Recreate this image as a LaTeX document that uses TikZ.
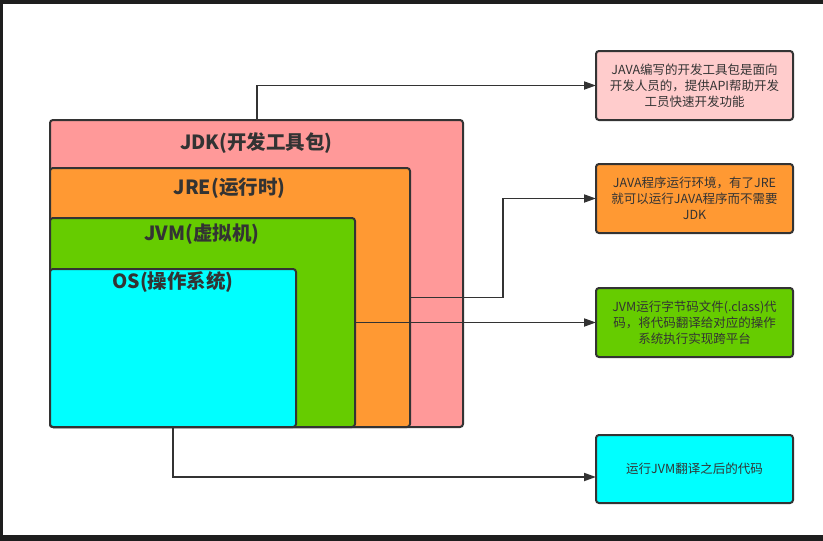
\documentclass[tikz,border=0pt]{standalone}
\usepackage{fontspec}
\setmainfont{Noto Sans CJK SC}
\usetikzlibrary{arrows.meta}
\definecolor{frame}{HTML}{1E1E1E}
\definecolor{edge}{HTML}{333333}
\definecolor{jdkc}{HTML}{FF9999}
\definecolor{jrec}{HTML}{FF9933}
\definecolor{jvmc}{HTML}{66CC00}
\definecolor{osc}{HTML}{00FFFF}
\definecolor{info1c}{HTML}{FFCCCC}
\begin{document}
\begin{tikzpicture}[x=1pt,y=-1pt,
  layer/.style={draw=edge, line width=2pt, rounded corners=3pt, inner sep=0pt, outer sep=0pt, anchor=north west},
  infobox/.style={draw=edge, line width=2pt, rounded corners=3pt, inner sep=0pt, outer sep=0pt, anchor=north west,
    minimum width=197pt, minimum height=69pt, align=center, font=\fontsize{12.5}{16}\selectfont, text=edge},
  lbl/.style={font=\fontsize{19.5}{21}\selectfont\bfseries, text=edge, inner sep=0pt},
  arr/.style={draw=edge, line width=1.8pt, -{Triangle[length=12pt,width=8pt]}}]
\path[use as bounding box, fill=white] (0,0) rectangle (823,541);
\fill[frame] (0,0) rectangle (823,4);
\fill[frame] (0,0) rectangle (3,541);
\fill[frame] (0,535) rectangle (823,541);
% nested layers
\node[layer, fill=jdkc, minimum width=413pt, minimum height=307pt] (jdk) at (50,120) {};
\node[layer, fill=jrec, minimum width=360pt, minimum height=259pt] (jre) at (50,168) {};
\node[layer, fill=jvmc, minimum width=305pt, minimum height=209pt] (jvm) at (50,218) {};
\node[layer, fill=osc, minimum width=246pt, minimum height=158pt] (os) at (50,269) {};
\node[lbl] (jdkl) at (256.5,143) {JDK(开发工具包)};
\node[lbl] (jrel) at (229.5,188) {JRE(运行时)};
\node[lbl] (jvml) at (202,234) {JVM(虚拟机)};
\node[lbl] (osl) at (173,282) {OS(操作系统)};
% info boxes
\node[infobox, fill=info1c] (info1) at (596,51) {JAVA编写的开发工具包是面向\\开发人员的，提供API帮助开发\\工员快速开发功能};
\node[infobox, fill=jrec] (info2) at (596,164) {JAVA程序运行环境，有了JRE\\就可以运行JAVA程序而不需要\\JDK};
\node[infobox, fill=jvmc] (info3) at (596,288) {JVM运行字节码文件(.class)代\\码，将代码翻译给对应的操作\\系统执行实现跨平台};
\node[infobox, fill=osc, minimum height=68pt] (info4) at (596,435) {运行JVM翻译之后的代码};
% connectors
\draw[arr] ([xshift=207pt]jdk.north west) |- (info1.west);
\draw[arr] (jre.east) -- ++(93,0) |- (info2.west);
\draw[arr] (jvm.east) -- (info3.west);
\draw[arr] (os.south) |- ([yshift=-8pt]info4.west);
\end{tikzpicture}
\end{document}
